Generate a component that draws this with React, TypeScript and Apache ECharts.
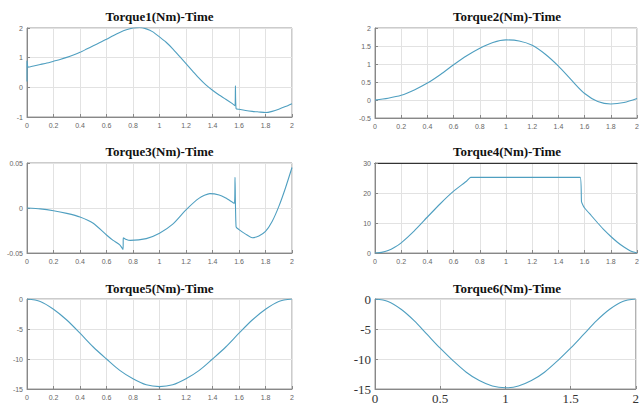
import React, { useEffect, useRef } from "react";
import * as echarts from "echarts";

// ---- Data ----
const t1 = [0, 0, 0.01, 0.05, 0.1, 0.15, 0.2, 0.25, 0.3, 0.35, 0.4, 0.45, 0.5, 0.55, 0.6, 0.65, 0.7, 0.75, 0.8, 0.85, 0.9, 0.95, 1.0, 1.05, 1.1, 1.15, 1.2, 1.25, 1.3, 1.35, 1.4, 1.45, 1.5, 1.55, 1.57, 1.573, 1.578, 1.6, 1.65, 1.7, 1.75, 1.8, 1.85, 1.9, 1.95, 2.0];
const torque1 = [0.2, 0.9, 0.68, 0.72, 0.77, 0.82, 0.88, 0.94, 1.01, 1.09, 1.18, 1.29, 1.4, 1.51, 1.62, 1.74, 1.85, 1.94, 2.0, 2.02, 1.97, 1.87, 1.7, 1.52, 1.3, 1.05, 0.8, 0.55, 0.3, 0.08, -0.1, -0.26, -0.4, -0.55, -0.62, 0.05, -0.72, -0.74, -0.78, -0.81, -0.83, -0.85, -0.81, -0.74, -0.65, -0.55];

const t2 = [0, 0.1, 0.2, 0.3, 0.4, 0.5, 0.6, 0.7, 0.8, 0.9, 1.0, 1.1, 1.2, 1.3, 1.4, 1.5, 1.6, 1.7, 1.8, 1.9, 2.0];
const torque2 = [0, 0.05, 0.13, 0.28, 0.47, 0.71, 0.98, 1.23, 1.44, 1.6, 1.67, 1.64, 1.52, 1.27, 0.94, 0.55, 0.18, -0.04, -0.11, -0.07, 0.04];

const t3 = [0, 0.1, 0.2, 0.3, 0.4, 0.5, 0.6, 0.65, 0.7, 0.725, 0.727, 0.75, 0.78, 0.9, 1.0, 1.1, 1.2, 1.3, 1.38, 1.45, 1.5, 1.565, 1.57, 1.578, 1.6, 1.65, 1.7, 1.75, 1.8, 1.85, 1.9, 1.95, 2.0];
const torque3 = [0, -0.001, -0.003, -0.006, -0.01, -0.017, -0.03, -0.036, -0.041, -0.046, -0.033, -0.035, -0.036, -0.034, -0.028, -0.018, -0.002, 0.011, 0.016, 0.0145, 0.011, 0.005, 0.034, -0.021, -0.024, -0.029, -0.033, -0.031, -0.026, -0.015, 0.0015, 0.022, 0.045];

const t4 = [0, 0.05, 0.1, 0.15, 0.2, 0.3, 0.4, 0.5, 0.6, 0.7, 0.73, 1.0, 1.3, 1.566, 1.576, 1.59, 1.6, 1.65, 1.7, 1.75, 1.8, 1.85, 1.9, 1.95, 2.0];
const torque4 = [0, 0.2, 0.8, 1.9, 3.4, 7.4, 12, 16.5, 20.6, 24, 25.2, 25.2, 25.2, 25.2, 17.1, 15.7, 15, 12.5, 10, 7.6, 5.5, 3.6, 2, 0.7, 0];

const t5 = [0, 0.1, 0.2, 0.3, 0.4, 0.5, 0.6, 0.7, 0.8, 0.9, 1.0, 1.1, 1.2, 1.3, 1.4, 1.5, 1.6, 1.7, 1.8, 1.9, 2.0];
const torque5 = [0, -0.4, -1.7, -3.5, -5.7, -8.0, -10.0, -11.9, -13.3, -14.3, -14.6, -14.3, -13.3, -11.9, -10.0, -8.0, -5.7, -3.5, -1.7, -0.4, 0];

const t6 = [0, 0.1, 0.2, 0.3, 0.4, 0.5, 0.6, 0.7, 0.8, 0.9, 1.0, 1.1, 1.2, 1.3, 1.4, 1.5, 1.6, 1.7, 1.8, 1.9, 2.0];
const torque6 = [0, -0.4, -1.7, -3.6, -5.9, -8.2, -10.3, -12.2, -13.6, -14.5, -14.8, -14.5, -13.6, -12.2, -10.3, -8.2, -5.9, -3.6, -1.7, -0.4, 0];

const titles = ["Torque1(Nm)-Time", "Torque2(Nm)-Time", "Torque3(Nm)-Time", "Torque4(Nm)-Time", "Torque5(Nm)-Time", "Torque6(Nm)-Time"];

const yMin = [-1, -0.5, -0.05, 0, -15, -15];
const yMax = [2, 2, 0.05, 30, 0, 0];
const yStep = [1, 0.5, 0.05, 10, 5, 5];
const xStep = [0.2, 0.2, 0.2, 0.2, 0.2, 0.5];

const seriesT = [t1, t2, t3, t4, t5, t6];
const seriesY = [torque1, torque2, torque3, torque4, torque5, torque6];
const smoothFlags = [0.2, 0.3, 0.2, 0.15, 0.3, 0.3];

// ---- Layout ----
const grids = [
  { left: 27, top: 28, width: 265, height: 89 },
  { left: 375, top: 28, width: 264, height: 90 },
  { left: 27, top: 163, width: 265, height: 90 },
  { left: 375, top: 163, width: 264, height: 90 },
  { left: 27, top: 299, width: 265, height: 90 },
  { left: 375, top: 299, width: 264, height: 90 },
];
const titleTops = [10, 10, 145, 145, 282, 282];

const LINE_COLOR = "#4f9fc0";

export default function App() {
  const ref = useRef<HTMLDivElement>(null);
  useEffect(() => {
    if (!ref.current) return;
    const chart = echarts.init(ref.current, undefined, { renderer: "svg" });

    const smallLabel = { fontFamily: "Liberation Sans", fontSize: 7, color: "#666" };
    const bigLabel = { fontFamily: "Liberation Serif", fontSize: 13, color: "#333" };

    const xAxes: any[] = [];
    const yAxes: any[] = [];
    const series: any[] = [];
    grids.forEach((g, i) => {
      const lab = i === 5 ? bigLabel : smallLabel;
      xAxes.push({
        type: "value",
        gridIndex: i,
        min: 0,
        max: 2,
        interval: xStep[i],
        axisLine: { show: true, onZero: false, lineStyle: { color: "#888", width: 1 } },
        axisTick: { show: true, inside: true, length: 3, lineStyle: { color: "#888" } },
        axisLabel: { ...lab, margin: i === 5 ? 3 : 5 },
        splitLine: { show: true, lineStyle: { color: "#e2e2e2", width: 1 } },
      });
      yAxes.push({
        type: "value",
        gridIndex: i,
        min: yMin[i],
        max: yMax[i],
        interval: yStep[i],
        axisLine: { show: true, onZero: false, lineStyle: { color: "#888", width: 1 } },
        axisTick: { show: true, inside: true, length: 3, lineStyle: { color: "#888" } },
        axisLabel: { ...lab, margin: 4 },
        splitLine: { show: true, lineStyle: { color: "#e2e2e2", width: 1 } },
      });
      series.push({
        type: "line",
        xAxisIndex: i,
        yAxisIndex: i,
        data: seriesT[i].map((t, k) => [t, seriesY[i][k]]),
        showSymbol: false,
        smooth: smoothFlags[i],
        lineStyle: { color: LINE_COLOR, width: 1.1 },
        clip: true,
      });
    });
    // darker top frame on Torque4 panel
    xAxes.push({
      type: "value",
      gridIndex: 3,
      position: "top",
      min: 0,
      max: 2,
      axisLine: { show: true, onZero: false, lineStyle: { color: "#333", width: 1.2 } },
      axisTick: { show: false },
      axisLabel: { show: false },
      splitLine: { show: false },
    });

    chart.setOption({
      animation: false,
      backgroundColor: "#ffffff",
      title: titles.map((text, i) => ({
        text,
        left: grids[i].left + grids[i].width / 2,
        top: titleTops[i],
        textAlign: "center",
        padding: 0,
        textStyle: {
          fontFamily: "Liberation Serif",
          fontWeight: "bold",
          fontSize: 13,
          color: "#111",
        },
      })),
      grid: grids.map((g) => ({
        ...g,
        show: true,
        borderColor: "#999",
        borderWidth: 1,
        containLabel: false,
      })),
      xAxis: xAxes,
      yAxis: yAxes,
      series,
    });
    return () => chart.dispose();
  }, []);
  return (
    <div
      ref={ref}
      style={{ position: "fixed", left: 0, top: 0, width: 642, height: 410, background: "#fff" }}
    />
  );
}
